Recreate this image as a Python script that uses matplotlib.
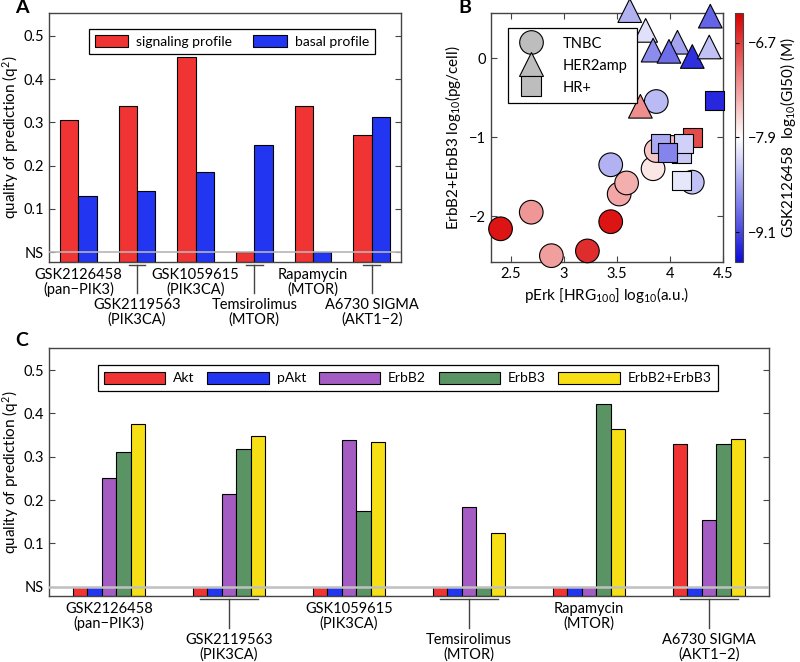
import numpy as np
import matplotlib
matplotlib.use("Agg")
import matplotlib.pyplot as plt
from matplotlib.colors import LinearSegmentedColormap
from matplotlib.lines import Line2D
import matplotlib.transforms as mtrans

plt.rcParams['font.family'] = ['Lato', 'DejaVu Sans']
plt.rcParams['font.size'] = 10.5
plt.rcParams['mathtext.fontset'] = 'custom'
plt.rcParams['mathtext.rm'] = 'Lato'
plt.rcParams['mathtext.it'] = 'Lato:italic'

# panel A / C drug labels
drugs = ["GSK2126458\n(pan\u2212PIK3)", "GSK2119563\n(PIK3CA)", "GSK1059615\n(PIK3CA)",
         "Temsirolimus\n(MTOR)", "Rapamycin\n(MTOR)", "A6730 SIGMA\n(AKT1\u22122)"]

# panel A
signaling = [0.306, 0.338, 0.452, 0.0, 0.337, 0.271]
basal = [0.129, 0.141, 0.185, 0.248, 0.0, 0.313]

# panel C
c_series = ["Akt", "pAkt", "ErbB2", "ErbB3", "ErbB2+ErbB3"]
akt = [0.0, 0.0, 0.0, 0.0, 0.0, 0.330]
pakt = [0.0, 0.0, 0.0, 0.0, 0.0, 0.0]
erbb2 = [0.252, 0.214, 0.338, 0.185, 0.0, 0.155]
erbb3 = [0.312, 0.318, 0.175, 0.0, 0.422, 0.330]
erbb23 = [0.376, 0.348, 0.335, 0.125, 0.364, 0.341]

# panel B: (pErk, ErbB2+ErbB3, log10 GI50)
tnbc_x = [2.40, 2.69, 2.88, 3.22, 3.44, 3.44, 3.52, 3.59, 3.87, 3.84, 3.87, 4.02, 4.21]
tnbc_y = [-2.16, -1.95, -2.50, -2.44, -2.07, -1.35, -1.72, -1.58, -0.55, -1.40, -1.17, -1.13, -1.57]
tnbc_c = [-6.45, -7.25, -7.3, -6.6, -6.45, -8.4, -7.35, -7.4, -8.35, -7.75, -7.55, -7.5, -8.3]

her2_x = [3.62, 3.77, 3.84, 4.07, 3.99, 4.21, 4.38, 4.37, 3.72]
her2_y = [0.60, 0.35, 0.10, 0.20, 0.085, 0.02, 0.53, 0.14, -0.61]
her2_c = [-8.4, -8.1, -8.65, -8.5, -8.85, -9.25, -8.9, -8.3, -7.2]

hr_x = [4.42, 4.21, 4.11, 3.91, 4.13, 3.98, 4.11]
hr_y = [-0.54, -1.00, -1.21, -1.08, -1.08, -1.20, -1.55]
hr_c = [-9.3, -6.8, -8.25, -8.45, -8.2, -8.7, -8.05]

red = "#f03434"
blue = "#2236f2"
purple = "#a45cc2"
green = "#5b9464"
yellow = "#f7df15"
spine_c = "#444444"

fig = plt.figure(figsize=(8, 6.62), dpi=100)


def style_axes(ax):
    for s in ax.spines.values():
        s.set_color(spine_c)
        s.set_linewidth(1.0)
    ax.tick_params(direction='in', color=spine_c, length=4, width=0.8, labelsize=10.5)


def drug_labels(ax, half_w, n, h_ax):
    trans = mtrans.blended_transform_factory(ax.transData, ax.transAxes)
    for i, lab in enumerate(drugs):
        x = i + 1
        if i % 2 == 0:
            ax.text(x, -6.0 / h_ax, lab, transform=trans, ha='center', va='top',
                    fontsize=10.5, linespacing=1.0)
        else:
            y0 = -3.0 / h_ax
            ax.plot([x - half_w, x + half_w], [y0, y0], color=spine_c, lw=1,
                    transform=trans, clip_on=False)
            ax.plot([x, x], [y0, -n / h_ax], color=spine_c, lw=1,
                    transform=trans, clip_on=False)
            ax.text(x, -(n + 5.0) / h_ax, lab, transform=trans, ha='center', va='top',
                    fontsize=10.5, linespacing=1.0)


# ---------------- A ----------------
axA = fig.add_axes([49 / 800, 1 - 262 / 662, 352 / 800, 249 / 662])
ylo, yhi = -0.023, 0.553
x = np.arange(1, 7)
wA = 0.31
sig = np.array(signaling)
bas = np.array(basal)
axA.bar(x - wA / 2, sig - ylo, wA, bottom=ylo, color=red, edgecolor='black', lw=0.8,
        label='signaling profile')
axA.bar(x + wA / 2, bas - ylo, wA, bottom=ylo, color=blue, edgecolor='black', lw=0.8,
        label='basal profile')
axA.axhline(0, color='#b5b5b5', lw=1.2, zorder=5)
axA.set_xlim(0.5, 6.5)
axA.set_ylim(ylo, yhi)
axA.set_yticks([0, 0.1, 0.2, 0.3, 0.4, 0.5])
axA.set_yticklabels(['NS', '0.1', '0.2', '0.3', '0.4', '0.5'])
axA.set_xticks([])
style_axes(axA)
axA.tick_params(axis='y', right=True)
axA.set_ylabel('quality of prediction (q$^2$)', fontsize=11)
axA.yaxis.set_label_coords(-0.08, 0.5)
legA = axA.legend(loc='upper center', bbox_to_anchor=(0.52, 0.965), ncol=2,
                  handlelength=2.4, handleheight=0.95, handletextpad=0.6,
                  columnspacing=1.5, fancybox=False, edgecolor='black',
                  framealpha=1, borderpad=0.45, fontsize=10)
legA.get_frame().set_linewidth(0.9)
drug_labels(axA, 0.14, 31, 249)

# ---------------- B ----------------
axB = fig.add_axes([491 / 800, 1 - 262 / 662, 232 / 800, 249 / 662])
cmap = LinearSegmentedColormap.from_list('bwr2', [(0.05, 0.05, 0.85), (1, 1, 1), (0.85, 0.0, 0.0)])
vmin, vmax = -9.48, -6.32
kw = dict(cmap=cmap, vmin=vmin, vmax=vmax, edgecolors='black', linewidths=0.8, clip_on=False)
sc = axB.scatter(tnbc_x, tnbc_y, c=tnbc_c, marker='o', s=290, zorder=3, **kw)
axB.scatter(her2_x, her2_y, c=her2_c, marker='^', s=290, zorder=4, **kw)
axB.scatter(hr_x, hr_y, c=hr_c, marker='s', s=190, zorder=5, **kw)
axB.set_xlim(2.31, 4.5)
axB.set_ylim(-2.58, 0.57)
axB.set_xticks([2.5, 3, 3.5, 4, 4.5])
axB.set_xticklabels(['2.5', '3', '3.5', '4', '4.5'])
axB.set_yticks([-2, -1, 0])
axB.set_yticklabels(['\u22122', '\u22121', '0'])
style_axes(axB)
axB.tick_params(top=True, right=True)
axB.set_xlabel('pErk [HRG$_{100}$] log$_{10}$(a.u.)', fontsize=11, labelpad=3)
axB.set_ylabel('ErbB2+ErbB3 log$_{10}$(pg/cell)', fontsize=11)
axB.yaxis.set_label_coords(-0.12, 0.5)
handles = [Line2D([], [], ls='none', marker=m, markersize=ms, markerfacecolor='#bdbdbd',
                  markeredgecolor='black', markeredgewidth=0.8)
           for m, ms in [('o', 17), ('^', 17), ('s', 14)]]
legB = axB.legend(handles, ['TNBC', 'HER2amp', 'HR+'], loc='upper left',
                  bbox_to_anchor=(0.04, 0.97), fancybox=False, edgecolor='black',
                  framealpha=1, fontsize=10.5, labelspacing=0.55, handletextpad=1.2,
                  borderpad=0.6, handlelength=2.0)
legB.get_frame().set_linewidth(0.9)

cax = fig.add_axes([735 / 800, 1 - 262 / 662, 8 / 800, 249 / 662])
cb = fig.colorbar(sc, cax=cax)
cb.set_ticks([-9.1, -7.9, -6.7])
cb.set_ticklabels(['\u22129.1', '\u22127.9', '\u22126.7'])
cb.outline.set_edgecolor(spine_c)
cax.tick_params(direction='in', length=3, color='black', left=True, right=False, labelsize=10.5)
cax.yaxis.set_label_position('right')
cb.set_label('GSK2126458  log$_{10}$(GI50) (M)', fontsize=11, labelpad=1)

# ---------------- C ----------------
axC = fig.add_axes([49 / 800, 1 - 596 / 662, 720 / 800, 248 / 662])
ylo_c = -0.0215
wC = 0.121
cols = [red, blue, purple, green, yellow]
for k, (vals, name) in enumerate(zip([akt, pakt, erbb2, erbb3, erbb23], c_series)):
    v = np.array(vals)
    axC.bar(x + (k - 2) * wC, v - ylo_c, wC, bottom=ylo_c, color=cols[k],
            edgecolor='black', lw=0.8, label=name)
axC.axhline(0, color='#c0c0c0', lw=1.8, zorder=5)
axC.set_xlim(0.5, 6.5)
axC.set_ylim(ylo_c, 0.551)
axC.set_yticks([0, 0.1, 0.2, 0.3, 0.4, 0.5])
axC.set_yticklabels(['NS', '0.1', '0.2', '0.3', '0.4', '0.5'])
axC.set_xticks([])
style_axes(axC)
axC.tick_params(axis='y', right=True)
axC.set_ylabel('quality of prediction (q$^2$)', fontsize=11)
axC.yaxis.set_label_coords(-0.039, 0.5)
legC = axC.legend(loc='upper left', bbox_to_anchor=(0.058, 0.958), ncol=5,
                  handlelength=4.4, handleheight=0.95, handletextpad=0.6,
                  columnspacing=0.9, fancybox=False, edgecolor='black',
                  framealpha=1, borderpad=0.45, fontsize=10)
legC.get_frame().set_linewidth(0.9)
drug_labels(axC, 0.24, 32, 248)

fig.text(15 / 800, 1 - 13 / 662, 'A', fontsize=14, fontweight='bold')
fig.text(458 / 800, 1 - 13 / 662, 'B', fontsize=14, fontweight='bold')
fig.text(15 / 800, 1 - 346 / 662, 'C', fontsize=14, fontweight='bold')

fig.savefig('out.png', dpi=100)
